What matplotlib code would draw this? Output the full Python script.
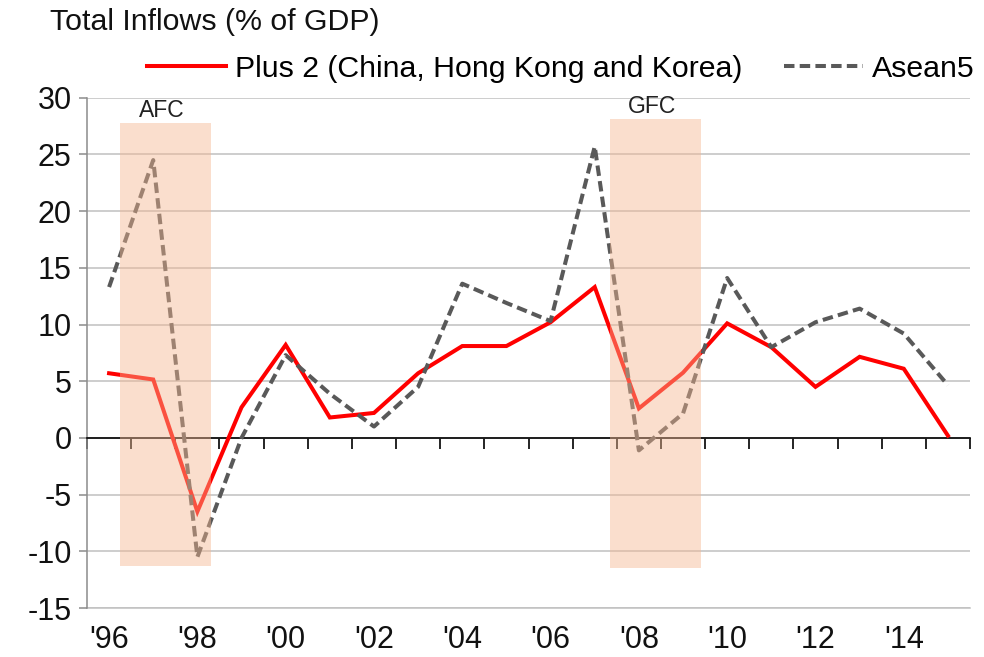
import numpy as np
import matplotlib
matplotlib.use("Agg")
import matplotlib.pyplot as plt

plt.rcParams['font.family'] = ['Liberation Sans', 'DejaVu Sans']
plt.rcParams['axes.unicode_minus'] = False

years = list(range(1996, 2016))
tick_labels = ["'96", "'98", "'00", "'02", "'04", "'06", "'08", "'10", "'12", "'14"]
plus2 = [5.7, 5.15, -6.5, 2.7, 8.2, 1.8, 2.2, 5.7, 8.1, 8.1,
         10.2, 13.3, 2.6, 5.75, 10.1, 8.0, 4.5, 7.15, 6.1, 0.2]
asean5 = [13.3, 24.5, -10.5, 0.0, 7.3, 3.9, 1.0, 4.5, 13.6, 11.9,
          10.3, 25.7, -1.1, 2.15, 14.1, 8.0, 10.2, 11.4, 9.2, 4.65]
crisis_names = ["AFC", "GFC"]
crisis_start = [1996.25, 2007.35]
crisis_end = [1998.3, 2009.4]
crisis_low = [-11.3, -11.45]
crisis_high = [27.75, 28.1]

W, H = 984, 657
fig = plt.figure(figsize=(W / 100, H / 100), dpi=100)
ax = fig.add_axes([87 / W, 1 - 608 / H, (970 - 87) / W, (608 - 97.7) / H])

x = np.arange(len(years))
ax.plot(x, plus2, color='#FF0000', lw=2.9, zorder=3, solid_joinstyle='miter',
        label='Plus 2 (China, Hong Kong and Korea)')
ax.plot(x, asean5, color='#595959', lw=2.9, ls=(0, (2.6, 1.3)), zorder=3,
        label='Asean5')

for name, s, e, lo, hi in zip(crisis_names, crisis_start, crisis_end, crisis_low, crisis_high):
    xs = [s - years[0], e - years[0]]
    ax.fill_between(xs, [lo, lo], [hi, hi], color='#F4B690', alpha=0.45,
                    lw=0, zorder=4)
    ax.text((xs[0] + xs[1]) / 2 - 0.08, hi + 1.1, name, ha='center', va='center',
            fontsize=16.5, color='#222222', zorder=5)

ax.set_xlim(-0.5, len(years) - 0.5)
ax.set_ylim(-15, 30)
ax.set_yticks(np.arange(-15, 31, 5))
ax.yaxis.grid(True, color='#C0C0C0', lw=1.1)
ax.set_axisbelow(True)

for sp in ['top', 'right']:
    ax.spines[sp].set_visible(False)
ax.spines['left'].set_color('#8C8C8C')
ax.spines['left'].set_linewidth(1.1)
ax.spines['bottom'].set_position(('data', 0))
ax.spines['bottom'].set_color('black')
ax.spines['bottom'].set_linewidth(1.2)
ax.spines['bottom'].set_zorder(2.5)

ax.set_xticks(np.arange(-0.5, len(years), 1))
ax.tick_params(axis='x', length=8, width=1.2, color='black', labelbottom=False,
               direction='out')
ax.tick_params(axis='y', length=6, width=1.1, color='#8C8C8C', labelsize=22,
               pad=5, labelcolor='#111111')

sec = ax.secondary_xaxis('bottom')
sec.set_xticks(x[::2])
sec.set_xticklabels(tick_labels)
sec.tick_params(length=0, labelsize=22, pad=12, labelcolor='#111111')
sec.spines['bottom'].set_color('#C0C0C0')
sec.spines['bottom'].set_linewidth(1.1)

fig.text(50 / W, 1 - 22 / H, 'Total Inflows (% of GDP)', fontsize=21.8,
         ha='left', va='center', color='#111111')

fig.legend(loc='center right', bbox_to_anchor=(975 / W, 1 - 69 / H), ncol=2,
           frameon=False, fontsize=21.8, handlelength=2.6, handletextpad=0.3,
           columnspacing=1.4, borderpad=0, borderaxespad=0)

fig.savefig('out.png', dpi=100)
